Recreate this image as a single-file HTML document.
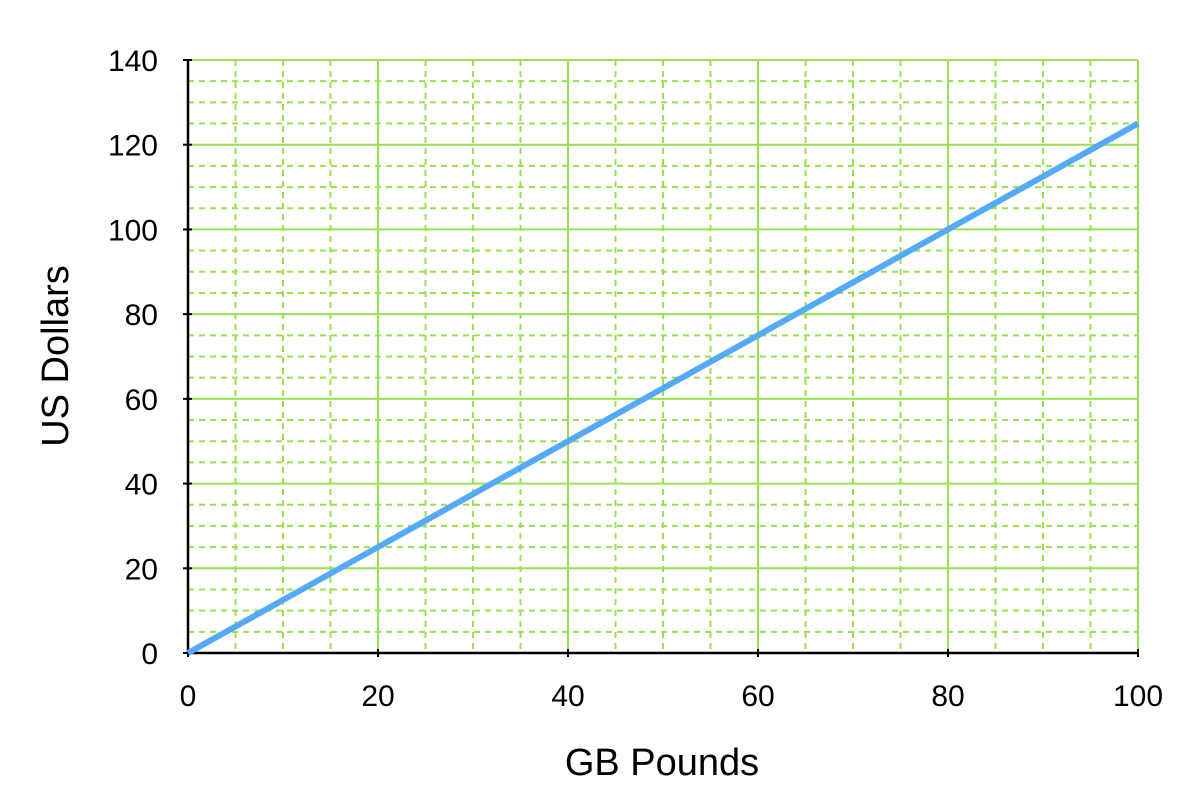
<!DOCTYPE html>
<html><head><meta charset="utf-8"><style>
body{margin:0;background:#fff;}
svg{display:block;font-family:"Liberation Sans",Arial,sans-serif;}
</style></head><body>
<svg id="chart" width="1200" height="801" viewBox="0 0 1200 801">
<g id="grid"></g>
<g id="axes"></g>
<g id="series"></g>
<text x="662" y="775" font-size="38" text-anchor="middle">GB Pounds</text>
<text transform="translate(68,356) rotate(-90)" font-size="38" text-anchor="middle">US Dollars</text>
</svg>
<script>
const xTicks = [0, 20, 40, 60, 80, 100];
const yTicks = [0, 20, 40, 60, 80, 100, 120, 140];
const pounds = [0, 100];
const dollars = [0, 125];
const X0 = 188, X1 = 1138, Y0 = 653, Y1 = 60;
const xs = v => X0 + (v - 0) / 100 * (X1 - X0);
const ys = v => Y0 - v / 140 * (Y0 - Y1);
const NS = 'http://www.w3.org/2000/svg';
function mk(tag, attrs, parent) {
  const e = document.createElementNS(NS, tag);
  for (const k in attrs) e.setAttribute(k, attrs[k]);
  parent.appendChild(e); return e;
}
const grid = document.getElementById('grid');
const axes = document.getElementById('axes');
const series = document.getElementById('series');
for (let v = 5; v <= 100; v += 5) {
  const major = v % 20 === 0;
  const l = mk('line', {x1: xs(v), x2: xs(v), y1: Y1, y2: Y0, stroke: '#98e04e', 'stroke-width': 2, 'stroke-dasharray': major ? '' : '6,5'}, grid);
  
  
}
for (let v = 5; v <= 140; v += 5) {
  const major = v % 20 === 0;
  const l = mk('line', {x1: X0, x2: X1, y1: ys(v), y2: ys(v), stroke: '#98e04e', 'stroke-width': 2, 'stroke-dasharray': major ? '' : '6,5'}, grid);
  
  
}
let a = mk('line', {x1: X0, x2: X0, y1: Y1, y2: Y0 + 1, stroke: '#000', 'stroke-width': 2.5}, axes);


a = mk('line', {x1: X0 - 1, x2: X1, y1: Y0, y2: Y0, stroke: '#000', 'stroke-width': 2.5}, axes);


xTicks.forEach(v => {
  const t = mk('line', {x1: xs(v), x2: xs(v), y1: Y0 - 4, y2: Y0 + 4, stroke: '#000', 'stroke-width': 2}, axes);
  
  
  const tx = mk('text', {x: xs(v), y: 706, 'font-size': 30, 'text-anchor': 'middle'}, axes);
  tx.textContent = v;
  
  
});
yTicks.forEach(v => {
  const t = mk('line', {x1: X0 - 5, x2: X0 + 4, y1: ys(v), y2: ys(v), stroke: '#000', 'stroke-width': 2}, axes);
  
  
  const tx = mk('text', {x: 158, y: ys(v) + 11, 'font-size': 30, 'text-anchor': 'end'}, axes);
  tx.textContent = v;
  
  
});
const pts = pounds.map((p, i) => xs(p) + ',' + ys(dollars[i])).join(' ');
const pl = mk('polyline', {points: pts, fill: 'none', stroke: '#55aaf7', 'stroke-width': 6}, series);


</script>
</body></html>
